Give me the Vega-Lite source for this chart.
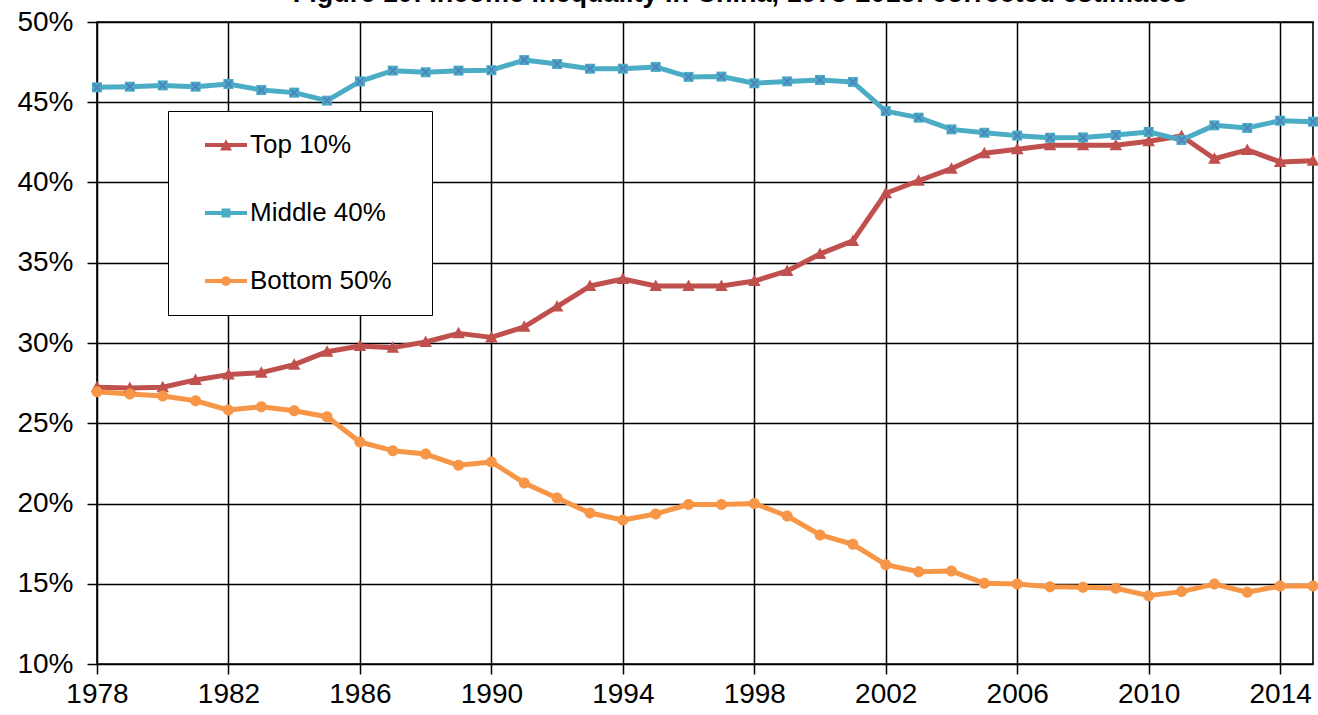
{
  "$schema": "https://vega.github.io/schema/vega-lite/v6.json",
  "autosize": {"type": "none"},
  "padding": {"left": 97, "top": 22, "right": 5, "bottom": 51},
  "width": 1216,
  "height": 642,
  "background": "#ffffff",
  "title": {
    "text": "Figure 10: Income inequality in China, 1978-2015: corrected estimates",
    "font": "Liberation Sans",
    "fontSize": 27,
    "fontWeight": "bold",
    "color": "#000000",
    "anchor": "middle",
    "frame": "group",
    "baseline": "alphabetic",
    "offset": 0,
    "dy": 21,
    "dx": 35
  },
  "config": {
    "view": {"stroke": "#000000", "strokeWidth": 1.6},
    "axis": {
      "labelFont": "Liberation Sans",
      "labelFontSize": 28,
      "labelColor": "#000000",
      "gridColor": "#000000",
      "gridWidth": 1.5,
      "gridOpacity": 1,
      "tickColor": "#000000",
      "tickWidth": 1.5,
      "tickSize": 10,
      "domain": false,
      "title": null
    },
    "legend": {
      "orient": "none",
      "legendX": 71,
      "legendY": 89,
      "padding": 21,
      "fillColor": "#ffffff",
      "strokeColor": "#000000",
      "labelFont": "Liberation Sans",
      "labelFontSize": 26,
      "labelColor": "#000000",
      "labelOffset": 35,
      "rowPadding": 42,
      "symbolSize": 144,
      "symbolStrokeWidth": 0,
      "symbolOpacity": 1
    }
  },
  "resolve": {
    "scale": {"shape": "independent"},
    "legend": {"color": "independent", "shape": "independent"}
  },
  "data": {
    "values": [
      {"year": 1978, "series": "Top 10%", "value": 0.2724},
      {"year": 1979, "series": "Top 10%", "value": 0.2720},
      {"year": 1980, "series": "Top 10%", "value": 0.2724},
      {"year": 1981, "series": "Top 10%", "value": 0.2770},
      {"year": 1982, "series": "Top 10%", "value": 0.2803},
      {"year": 1983, "series": "Top 10%", "value": 0.2815},
      {"year": 1984, "series": "Top 10%", "value": 0.2865},
      {"year": 1985, "series": "Top 10%", "value": 0.2946},
      {"year": 1986, "series": "Top 10%", "value": 0.2981},
      {"year": 1987, "series": "Top 10%", "value": 0.2971},
      {"year": 1988, "series": "Top 10%", "value": 0.3006},
      {"year": 1989, "series": "Top 10%", "value": 0.3060},
      {"year": 1990, "series": "Top 10%", "value": 0.3035},
      {"year": 1991, "series": "Top 10%", "value": 0.3101},
      {"year": 1992, "series": "Top 10%", "value": 0.3227},
      {"year": 1993, "series": "Top 10%", "value": 0.3355},
      {"year": 1994, "series": "Top 10%", "value": 0.3399},
      {"year": 1995, "series": "Top 10%", "value": 0.3355},
      {"year": 1996, "series": "Top 10%", "value": 0.3355},
      {"year": 1997, "series": "Top 10%", "value": 0.3355},
      {"year": 1998, "series": "Top 10%", "value": 0.3386},
      {"year": 1999, "series": "Top 10%", "value": 0.3449},
      {"year": 2000, "series": "Top 10%", "value": 0.3555},
      {"year": 2001, "series": "Top 10%", "value": 0.3636},
      {"year": 2002, "series": "Top 10%", "value": 0.3933},
      {"year": 2003, "series": "Top 10%", "value": 0.4011},
      {"year": 2004, "series": "Top 10%", "value": 0.4086},
      {"year": 2005, "series": "Top 10%", "value": 0.4182},
      {"year": 2006, "series": "Top 10%", "value": 0.4207},
      {"year": 2007, "series": "Top 10%", "value": 0.4232},
      {"year": 2008, "series": "Top 10%", "value": 0.4232},
      {"year": 2009, "series": "Top 10%", "value": 0.4232},
      {"year": 2010, "series": "Top 10%", "value": 0.4257},
      {"year": 2011, "series": "Top 10%", "value": 0.4290},
      {"year": 2012, "series": "Top 10%", "value": 0.4148},
      {"year": 2013, "series": "Top 10%", "value": 0.4203},
      {"year": 2014, "series": "Top 10%", "value": 0.4128},
      {"year": 2015, "series": "Top 10%", "value": 0.4136},
      {"year": 1978, "series": "Middle 40%", "value": 0.4593},
      {"year": 1979, "series": "Middle 40%", "value": 0.4597},
      {"year": 1980, "series": "Middle 40%", "value": 0.4605},
      {"year": 1981, "series": "Middle 40%", "value": 0.4597},
      {"year": 1982, "series": "Middle 40%", "value": 0.4614},
      {"year": 1983, "series": "Middle 40%", "value": 0.4576},
      {"year": 1984, "series": "Middle 40%", "value": 0.4560},
      {"year": 1985, "series": "Middle 40%", "value": 0.4510},
      {"year": 1986, "series": "Middle 40%", "value": 0.4630},
      {"year": 1987, "series": "Middle 40%", "value": 0.4697},
      {"year": 1988, "series": "Middle 40%", "value": 0.4687},
      {"year": 1989, "series": "Middle 40%", "value": 0.4697},
      {"year": 1990, "series": "Middle 40%", "value": 0.4700},
      {"year": 1991, "series": "Middle 40%", "value": 0.4763},
      {"year": 1992, "series": "Middle 40%", "value": 0.4738},
      {"year": 1993, "series": "Middle 40%", "value": 0.4709},
      {"year": 1994, "series": "Middle 40%", "value": 0.4709},
      {"year": 1995, "series": "Middle 40%", "value": 0.4720},
      {"year": 1996, "series": "Middle 40%", "value": 0.4658},
      {"year": 1997, "series": "Middle 40%", "value": 0.4660},
      {"year": 1998, "series": "Middle 40%", "value": 0.4618},
      {"year": 1999, "series": "Middle 40%", "value": 0.4630},
      {"year": 2000, "series": "Middle 40%", "value": 0.4639},
      {"year": 2001, "series": "Middle 40%", "value": 0.4626},
      {"year": 2002, "series": "Middle 40%", "value": 0.4445},
      {"year": 2003, "series": "Middle 40%", "value": 0.4404},
      {"year": 2004, "series": "Middle 40%", "value": 0.4331},
      {"year": 2005, "series": "Middle 40%", "value": 0.4310},
      {"year": 2006, "series": "Middle 40%", "value": 0.4292},
      {"year": 2007, "series": "Middle 40%", "value": 0.4279},
      {"year": 2008, "series": "Middle 40%", "value": 0.4281},
      {"year": 2009, "series": "Middle 40%", "value": 0.4296},
      {"year": 2010, "series": "Middle 40%", "value": 0.4315},
      {"year": 2011, "series": "Middle 40%", "value": 0.4265},
      {"year": 2012, "series": "Middle 40%", "value": 0.4356},
      {"year": 2013, "series": "Middle 40%", "value": 0.4340},
      {"year": 2014, "series": "Middle 40%", "value": 0.4385},
      {"year": 2015, "series": "Middle 40%", "value": 0.4379},
      {"year": 1978, "series": "Bottom 50%", "value": 0.2697},
      {"year": 1979, "series": "Bottom 50%", "value": 0.2682},
      {"year": 1980, "series": "Bottom 50%", "value": 0.2670},
      {"year": 1981, "series": "Bottom 50%", "value": 0.2640},
      {"year": 1982, "series": "Bottom 50%", "value": 0.2582},
      {"year": 1983, "series": "Bottom 50%", "value": 0.2603},
      {"year": 1984, "series": "Bottom 50%", "value": 0.2578},
      {"year": 1985, "series": "Bottom 50%", "value": 0.2541},
      {"year": 1986, "series": "Bottom 50%", "value": 0.2383},
      {"year": 1987, "series": "Bottom 50%", "value": 0.2329},
      {"year": 1988, "series": "Bottom 50%", "value": 0.2308},
      {"year": 1989, "series": "Bottom 50%", "value": 0.2238},
      {"year": 1990, "series": "Bottom 50%", "value": 0.2259},
      {"year": 1991, "series": "Bottom 50%", "value": 0.2128},
      {"year": 1992, "series": "Bottom 50%", "value": 0.2034},
      {"year": 1993, "series": "Bottom 50%", "value": 0.1941},
      {"year": 1994, "series": "Bottom 50%", "value": 0.1897},
      {"year": 1995, "series": "Bottom 50%", "value": 0.1935},
      {"year": 1996, "series": "Bottom 50%", "value": 0.1994},
      {"year": 1997, "series": "Bottom 50%", "value": 0.1994},
      {"year": 1998, "series": "Bottom 50%", "value": 0.2000},
      {"year": 1999, "series": "Bottom 50%", "value": 0.1922},
      {"year": 2000, "series": "Bottom 50%", "value": 0.1804},
      {"year": 2001, "series": "Bottom 50%", "value": 0.1746},
      {"year": 2002, "series": "Bottom 50%", "value": 0.1619},
      {"year": 2003, "series": "Bottom 50%", "value": 0.1575},
      {"year": 2004, "series": "Bottom 50%", "value": 0.1579},
      {"year": 2005, "series": "Bottom 50%", "value": 0.1503},
      {"year": 2006, "series": "Bottom 50%", "value": 0.1498},
      {"year": 2007, "series": "Bottom 50%", "value": 0.1482},
      {"year": 2008, "series": "Bottom 50%", "value": 0.1478},
      {"year": 2009, "series": "Bottom 50%", "value": 0.1472},
      {"year": 2010, "series": "Bottom 50%", "value": 0.1426},
      {"year": 2011, "series": "Bottom 50%", "value": 0.1451},
      {"year": 2012, "series": "Bottom 50%", "value": 0.1498},
      {"year": 2013, "series": "Bottom 50%", "value": 0.1447},
      {"year": 2014, "series": "Bottom 50%", "value": 0.1486},
      {"year": 2015, "series": "Bottom 50%", "value": 0.1486}
    ]
  },
  "encoding": {
    "x": {
      "field": "year",
      "type": "quantitative",
      "scale": {"domain": [1978, 2015], "nice": false, "zero": false},
      "axis": {
        "values": [1978, 1982, 1986, 1990, 1994, 1998, 2002, 2006, 2010, 2014],
        "format": "d",
        "labelPadding": 6,
        "labelFlush": false,
        "labelOverlap": false
      }
    },
    "y": {
      "field": "value",
      "type": "quantitative",
      "scale": {"domain": [0.1, 0.5], "nice": false, "zero": false},
      "axis": {
        "values": [0.1, 0.15, 0.2, 0.25, 0.3, 0.35, 0.4, 0.45, 0.5],
        "format": ".0%",
        "labelPadding": 14,
        "labelFlush": false,
        "labelOverlap": false
      }
    }
  },
  "layer": [
    {
      "mark": {"type": "line", "strokeWidth": 5, "strokeJoin": "round"},
      "encoding": {
        "color": {
          "field": "series",
          "type": "nominal",
          "scale": {"domain": ["Top 10%", "Middle 40%", "Bottom 50%"], "range": ["#C0504D", "#4BACC6", "#F79646"]},
          "legend": null
        }
      }
    },
    {
      "mark": {"type": "point", "filled": true, "opacity": 1, "strokeWidth": 0, "size": 100},
      "encoding": {
        "color": {
          "field": "series",
          "type": "nominal",
          "scale": {"domain": ["Top 10%", "Middle 40%", "Bottom 50%"], "range": ["#C0504D", "#4BACC6", "#F79646"]},
          "legend": null
        },
        "shape": {
          "field": "series",
          "type": "nominal",
          "scale": {"domain": ["Top 10%", "Middle 40%", "Bottom 50%"], "range": ["M-1.25,1L0,-1.3L1.25,1Z", "M-1,-1H1V1H-1Z", "M-1.1,0A1.1,1.1 0 1,1 1.1,0A1.1,1.1 0 1,1 -1.1,0Z"]},
          "legend": null
        }
      }
    },
    {
      "transform": [{"filter": "datum.series === 'Middle 40%'"}],
      "mark": {"type": "point", "filled": false, "shape": "M-1,-1L1,1M-1,1L1,-1", "size": 50, "strokeWidth": 1.8, "opacity": 1},
      "encoding": {"color": {"value": "#4F81BD"}}
    },
    {
      "transform": [{"filter": "datum.year < 0"}],
      "mark": {"type": "point", "filled": true, "opacity": 1, "strokeWidth": 0, "size": 144},
      "encoding": {
        "color": {
          "field": "series",
          "type": "nominal",
          "scale": {"domain": ["Top 10%", "Middle 40%", "Bottom 50%"], "range": ["#C0504D", "#4BACC6", "#F79646"]},
          "legend": {"title": null}
        },
        "shape": {
          "field": "series",
          "type": "nominal",
          "scale": {"domain": ["Top 10%", "Middle 40%", "Bottom 50%"], "range": ["M0.5,-0.33H7.5V0.33H0.5Z M3,0.9L4,-0.95L5,0.9Z M34.7,0", "M0.5,-0.33H7.5V0.33H0.5Z M3.25,-0.75H4.75V0.75H3.25Z M34.7,0", "M0.5,-0.33H7.5V0.33H0.5Z M3.2,0A0.8,0.8 0 1,1 4.8,0A0.8,0.8 0 1,1 3.2,0Z M34.7,0"]},
          "legend": {"title": null}
        }
      }
    }
  ]
}
